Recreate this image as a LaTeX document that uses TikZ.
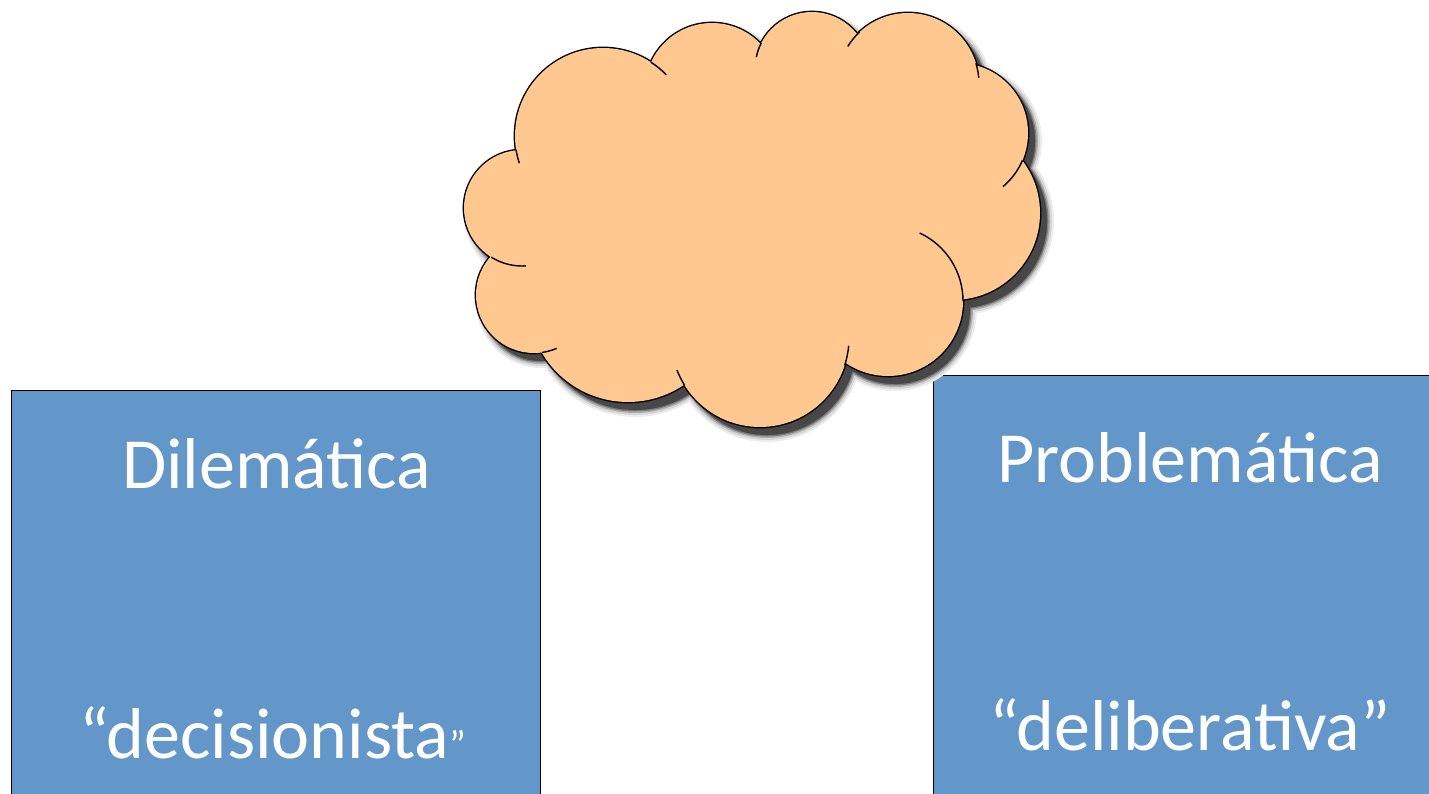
\documentclass[tikz,border=0pt]{standalone}
\usepackage{fontspec}
\setmainfont{Carlito}
\definecolor{boxblue}{RGB}{99,150,201}
\definecolor{cloudfill}{RGB}{254,200,144}
\def\cloudlist{603/136/88, 712/90/67, 812/69/57, 908/84/71, 958/133/70, 953/213/87, 888/301/75, 760/338/89, 628/302/100, 534/295/58, 522/208/58}
\begin{document}
\begin{tikzpicture}[x=1pt,y=-1pt,
  bluebox/.style={draw=black, line width=1.2pt, fill=boxblue, anchor=north west, inner sep=0pt},
  lbl/.style={anchor=base, inner sep=0pt, text=white, font=\fontsize{72}{86}\selectfont},
  stub/.style={draw=black, line width=1.4pt}]
\useasboundingbox (0,0) rectangle (1429,794);
\clip (0,0) rectangle (1429,794);
% boxes
\node[bluebox, minimum width=529pt, minimum height=430pt] (lbox) at (11,390) {};
\node[bluebox, minimum width=520pt, minimum height=440pt] (rbox) at (933,375) {};
% cloud shadow (layered to imitate blur)
\begin{scope}[shift={(7,8)}]
\foreach \w/\col in {14/black!7, 10/black!16, 6/black!32, 3/black!52, 0.1/black!72} {
  \path[fill=\col, draw=\col, line width=\w pt] foreach \a/\b/\c in \cloudlist {(\a,\b) circle[radius=\c]};
  \path[fill=\col] (603,136) -- (712,90) -- (812,69) -- (908,84) -- (958,133) -- (953,213) -- (888,301) -- (760,338) -- (628,302) -- (534,295) -- (522,208) -- cycle;
}
\end{scope}
% cloud outline and fill
\path[draw=black, line width=2.8pt] foreach \a/\b/\c in \cloudlist {(\a,\b) circle[radius=\c]};
\path[fill=cloudfill] foreach \a/\b/\c in \cloudlist {(\a,\b) circle[radius=\c]};
\fill[cloudfill] (603,136) -- (712,90) -- (812,69) -- (908,84) -- (958,133) -- (953,213) -- (888,301) -- (760,338) -- (628,302) -- (534,295) -- (522,208) -- cycle;
% inner stubs
\draw[stub] (603,136) ++(171:88) arc[start angle=171, end angle=162, radius=88];
\draw[stub] (603,136) ++(-57:88) arc[start angle=-57, end angle=-44, radius=88];
\draw[stub] (812,69) ++(207:57) arc[start angle=207, end angle=192, radius=57];
\draw[stub] (908,84) ++(227:71) arc[start angle=227, end angle=212, radius=71];
\draw[stub] (908,84) ++(-17:71) arc[start angle=-17, end angle=-5, radius=71];
\draw[stub] (958,133) ++(23:70) arc[start angle=23, end angle=50, radius=70];
\draw[stub] (888,301) ++(-65:75) arc[start angle=-65, end angle=0, radius=75];
\draw[stub] (760,338) ++(18:89) arc[start angle=18, end angle=5, radius=89];
\draw[stub] (760,338) ++(148:89) arc[start angle=148, end angle=159, radius=89];
\draw[stub] (534,295) ++(82:58) arc[start angle=82, end angle=67, radius=58];
\draw[stub] (522,208) ++(122:58) arc[start angle=122, end angle=86, radius=58];
% texts
\node[lbl] (dil) at (276.5,488) {Dilemática};
\node[lbl] (dec) at (273,758) {“decisionista{\fontsize{40}{48}\selectfont ”}};
\node[lbl] (prob) at (1190,482) {Problemática};
\node[lbl] (delib) at (1190,750) {“deliberativa”};
\end{tikzpicture}
\end{document}
